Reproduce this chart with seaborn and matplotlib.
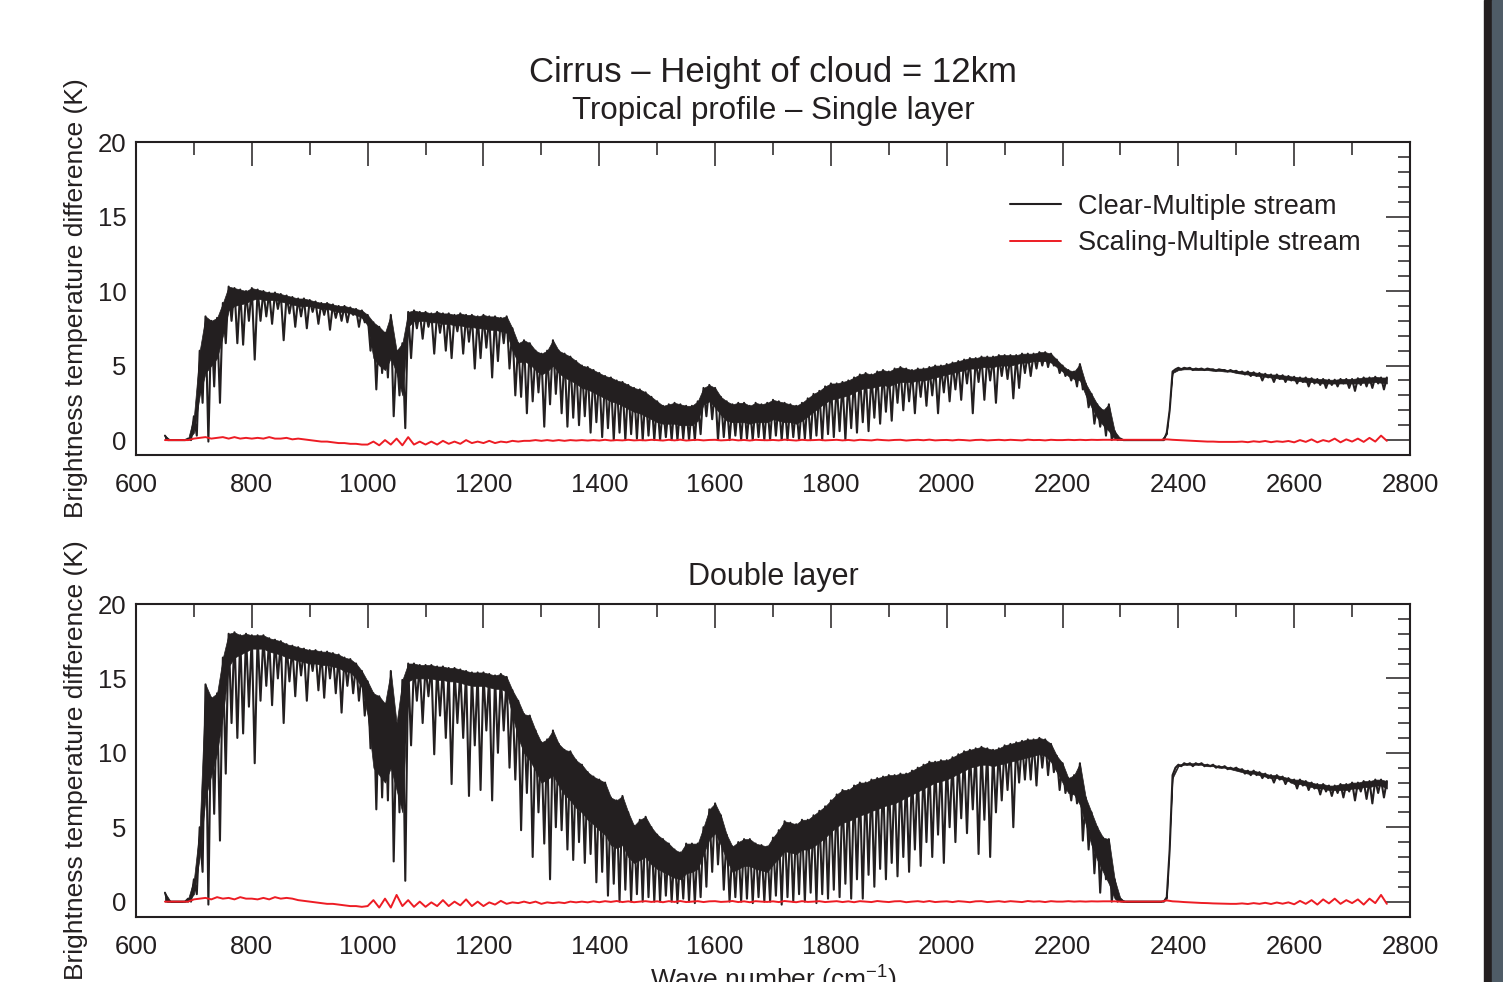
import numpy as np
import pandas as pd
import matplotlib
matplotlib.use("Agg")
import matplotlib.pyplot as plt
from matplotlib.ticker import MultipleLocator
from matplotlib.patches import Rectangle
import seaborn as sns

# ---------------- data (brightness temperature differences, K) ----------------
# wavenumber grid, 10 cm-1 steps, 650 .. 2760 cm-1
wavenumber = np.arange(650, 2761, 10)

# Single layer: upper envelope, lower edge of the dense band, and dip extent
single_top = [
    0.3, 0.0, 0.0, 0.0, 0.1,
    1.6, 6.0, 8.3, 8.0, 8.2, 9.2, 10.3, 10.2, 10.1, 10.0,
    10.2, 10.1, 10.0, 9.9, 9.9, 9.8, 9.7, 9.6, 9.5, 9.5,
    9.4, 9.3, 9.2, 9.2, 9.1, 9.0, 9.0, 8.9, 8.8, 8.7,
    8.4, 7.9, 7.6, 7.2, 8.4, 6.0, 6.5, 8.6, 8.7, 8.6,
    8.6, 8.5, 8.6, 8.5, 8.5, 8.4, 8.5, 8.4, 8.4, 8.3,
    8.4, 8.3, 8.3, 8.2, 8.3, 7.5, 6.5, 6.7, 6.5, 6.0,
    5.8, 6.0, 6.7, 6.0, 5.8, 5.6, 5.3, 5.0, 4.9, 4.7,
    4.5, 4.3, 4.2, 4.0, 3.9, 3.7, 3.5, 3.4, 3.2, 2.9,
    2.6, 2.3, 2.4, 2.5, 2.4, 2.3, 2.3, 2.6, 3.5, 3.7,
    3.5, 2.9, 2.6, 2.4, 2.5, 2.5, 2.3, 2.5, 2.4, 2.5,
    2.7, 2.6, 2.5, 2.4, 2.3, 2.5, 2.8, 3.1, 3.3, 3.6,
    3.8, 3.8, 3.9, 4.0, 4.2, 4.4, 4.5, 4.4, 4.6, 4.7,
    4.6, 4.8, 4.9, 4.8, 4.7, 4.8, 4.8, 4.9, 5.0, 5.0,
    5.1, 5.2, 5.3, 5.4, 5.5, 5.5, 5.6, 5.6, 5.6, 5.7,
    5.7, 5.7, 5.7, 5.8, 5.8, 5.8, 5.9, 5.9, 5.8, 5.4,
    5.0, 4.7, 4.6, 5.1, 3.8, 3.1, 2.4, 2.0, 2.4, 0.6,
    0.1, 0.0, 0.0, 0.0, 0.0, 0.0, 0.0, 0.0, 0.5, 4.6,
    4.85, 4.85, 4.85, 4.8, 4.8, 4.8, 4.75, 4.75, 4.7, 4.7,
    4.65, 4.6, 4.6, 4.55, 4.5, 4.45, 4.4, 4.4, 4.35, 4.3,
    4.25, 4.2, 4.2, 4.15, 4.1, 4.1, 4.05, 4.05, 4.1, 4.1,
    4.1, 4.15, 4.2, 4.2, 4.25, 4.2, 4.2,
]
single_band = [
    0.0, 0.0, 0.0, 0.0, 0.0,
    0.5, 3.0, 4.5, 5.0, 5.5, 7.0, 8.7, 9.0, 9.1, 9.2,
    9.4, 9.5, 9.4, 9.4, 9.4, 9.3, 9.2, 9.1, 9.0, 9.0,
    9.0, 8.9, 8.8, 8.8, 8.7, 8.6, 8.6, 8.5, 8.4, 8.2,
    7.7, 5.5, 5.0, 4.7, 5.5, 4.5, 3.0, 7.6, 8.0, 8.0,
    8.0, 7.9, 7.9, 7.8, 7.8, 7.7, 7.7, 7.6, 7.6, 7.5,
    7.5, 7.4, 7.4, 7.3, 7.2, 6.0, 5.2, 5.3, 5.1, 4.7,
    4.4, 4.6, 5.0, 4.5, 4.2, 4.0, 3.8, 3.5, 3.4, 3.2,
    3.0, 2.8, 2.6, 2.5, 2.3, 2.1, 1.9, 1.8, 1.6, 1.4,
    1.2, 1.1, 1.1, 1.1, 1.0, 1.0, 1.0, 1.3, 2.4, 2.6,
    2.2, 1.7, 1.3, 1.2, 1.2, 1.2, 1.1, 1.2, 1.2, 1.2,
    1.4, 1.3, 1.2, 1.2, 1.1, 1.3, 1.6, 1.9, 2.2, 2.5,
    2.7, 2.8, 2.9, 3.0, 3.2, 3.4, 3.5, 3.5, 3.6, 3.7,
    3.6, 3.8, 3.9, 3.9, 3.9, 4.0, 4.0, 4.1, 4.2, 4.3,
    4.4, 4.5, 4.6, 4.7, 4.8, 4.8, 4.9, 4.9, 4.9, 5.0,
    5.0, 5.0, 5.1, 5.2, 5.2, 5.3, 5.3, 5.3, 5.2, 4.9,
    4.6, 4.3, 4.1, 4.0, 3.0, 2.2, 1.5, 1.0, 0.6, 0.1,
    0.0, 0.0, 0.0, 0.0, 0.0, 0.0, 0.0, 0.0, 0.4, 4.5,
    4.7, 4.75, 4.75, 4.7, 4.7, 4.7, 4.65, 4.65, 4.6, 4.6,
    4.5, 4.45, 4.4, 4.35, 4.3, 4.25, 4.2, 4.15, 4.1, 4.05,
    4.0, 3.95, 3.9, 3.9, 3.85, 3.8, 3.8, 3.8, 3.8, 3.8,
    3.8, 3.8, 3.85, 3.85, 3.9, 3.85, 3.8,
]
single_low = [
    0.0, 0.0, 0.0, 0.0, 0.0,
    0.3, 2.5, -0.1, 3.6, 2.5, 6.5, 8.0, 6.5, 6.4, 8.0,
    5.4, 8.0, 8.3, 7.8, 8.8, 6.7, 8.5, 7.6, 8.3, 7.5,
    8.6, 7.8, 8.4, 7.4, 8.2, 8.0, 7.9, 8.4, 7.6, 7.9,
    6.0, 3.4, 4.5, 4.2, 1.6, 3.0, 0.8, 5.5, 7.5, 6.8,
    7.6, 5.8, 7.2, 6.0, 5.5, 7.3, 5.8, 6.6, 4.8, 5.5,
    6.2, 4.2, 5.3, 6.5, 4.8, 3.0, 2.9, 1.8, 2.6, 3.2,
    0.9, 2.4, 3.1, 1.8, 0.9, 1.5, 1.0, 1.6, 0.5, 1.2,
    0.2, 0.8, 0.0, 0.5, 0.0, 0.4, 0.1, 0.0, 0.3, 0.0,
    0.0, 0.2, 0.0, 0.0, 0.1, 0.0, 0.0, 0.4, 1.6, 1.4,
    0.0, 0.2, 0.0, 0.3, 0.0, 0.1, 0.0, 0.2, 0.0, 0.0,
    0.3, 0.0, 0.0, 0.2, 0.0, 0.1, 0.0, 0.3, 0.0, 0.4,
    0.2, 0.6, 0.0, 0.8, 0.5, 1.2, 0.6, 1.5, 1.1, 1.9,
    1.3, 2.5, 2.0, 2.6, 1.8, 2.9, 2.3, 3.0, 1.8, 3.2,
    2.6, 3.4, 2.7, 3.8, 1.8, 3.9, 2.7, 4.0, 2.5, 4.3,
    4.1, 2.8, 3.5, 4.5, 4.3, 4.8, 5.0, 4.9, 5.0, 4.5,
    4.3, 4.0, 3.6, 3.4, 2.2, 1.1, 0.9, 0.3, 0.0, 0.0,
    0.0, 0.0, 0.0, 0.0, 0.0, 0.0, 0.0, 0.0, 2.0, 4.75,
    4.75, 4.8, 4.7, 4.75, 4.7, 4.75, 4.65, 4.7, 4.6, 4.6,
    4.5, 4.4, 4.3, 4.3, 4.0, 4.2, 3.9, 4.1, 3.9, 4.0,
    3.8, 3.9, 3.6, 3.8, 3.7, 3.5, 3.7, 3.6, 3.8, 3.5,
    3.3, 3.7, 3.6, 3.5, 3.8, 3.4, 3.6,
]
# Single layer: Scaling - Multiple stream
single_red = [
    0.0, 0.0, 0.0, 0.0, 0.0,
    0.1, 0.15, 0.2, 0.1, 0.15, 0.2, 0.1, 0.2, 0.1, 0.15,
    0.1, 0.15, 0.1, 0.2, 0.1, 0.1, 0.15, 0.05, 0.1, 0.05,
    0.0, -0.05, -0.1, -0.1, -0.15, -0.2, -0.2, -0.25, -0.25, -0.3,
    -0.3, -0.1, -0.35, 0.0, -0.3, 0.1, -0.35, 0.2, -0.3, -0.1,
    -0.3, -0.1, -0.3, -0.05, -0.25, -0.1, -0.25, 0.0, -0.2, -0.1,
    -0.2, -0.05, -0.2, -0.1, -0.15, -0.05, -0.1, -0.05, -0.05, 0.0,
    -0.05, 0.0, -0.05, 0.0, -0.05, 0.0, -0.03, 0.0, -0.03, 0.0,
    -0.03, 0.02, -0.03, 0.0, -0.02, 0.02, -0.02, 0.0, -0.02, 0.02,
    0.0, -0.03, 0.02, -0.02, 0.03, -0.03, 0.0, 0.02, -0.02, 0.01,
    0.02, -0.02, 0.0, 0.03, -0.02, 0.01, -0.03, 0.02, 0.0, -0.01,
    0.01, -0.02, 0.03, 0.0, -0.03, 0.02, -0.01, 0.0, 0.02, -0.02,
    0.0, 0.02, -0.02, 0.01, -0.03, 0.02, 0.0, -0.02, 0.03, 0.0,
    -0.02, 0.01, 0.02, -0.03, 0.0, 0.02, -0.01, 0.03, -0.02, 0.0,
    0.01, -0.02, 0.02, 0.0, -0.03, 0.01, 0.02, -0.02, 0.0, 0.02,
    -0.01, 0.02, 0.0, -0.02, 0.03, 0.0, 0.01, -0.02, 0.02, 0.0,
    0.0, 0.02, 0.0, 0.02, 0.0, 0.02, 0.01, 0.02, 0.02, 0.02,
    0.02, 0.02, 0.02, 0.02, 0.02, 0.02, 0.02, 0.02, 0.05, 0.02,
    0.0, -0.02, -0.04, -0.06, -0.08, -0.1, -0.1, -0.12, -0.12, -0.12,
    -0.12, -0.1, -0.14, -0.08, -0.12, -0.06, -0.14, -0.08, -0.12, -0.06,
    -0.15, 0.0, -0.12, 0.05, -0.15, 0.0, -0.1, 0.1, -0.15, 0.05,
    -0.1, 0.1, -0.12, 0.15, -0.1, 0.3, -0.05,
]

# Double layer
double_top = [
    0.6, 0.0, 0.0, 0.0, 0.2,
    1.5, 5.0, 14.6, 13.7, 14.0, 16.4, 18.0, 18.1, 17.9, 18.0,
    17.9, 17.9, 17.9, 17.7, 17.6, 17.5, 17.3, 17.2, 17.1, 17.0,
    16.9, 16.9, 16.8, 16.8, 16.7, 16.6, 16.4, 16.3, 16.0, 15.5,
    14.8, 14.0, 13.8, 13.3, 15.5, 12.0, 14.9, 16.0, 16.0, 15.9,
    15.9, 15.9, 15.8, 15.8, 15.7, 15.7, 15.6, 15.5, 15.4, 15.4,
    15.4, 15.3, 15.2, 15.3, 15.1, 14.2, 13.5, 12.6, 12.5, 11.5,
    10.7, 10.9, 11.5, 10.6, 10.2, 10.1, 9.5, 9.2, 8.7, 8.4,
    8.2, 8.0, 7.0, 6.8, 7.1, 6.0, 5.1, 5.5, 5.7, 5.0,
    4.5, 4.2, 3.9, 3.5, 3.3, 3.9, 3.9, 3.9, 5.0, 6.2,
    6.6, 5.8, 4.5, 3.7, 4.0, 4.2, 4.2, 3.9, 3.8, 3.7,
    4.3, 4.8, 5.4, 5.3, 5.2, 5.5, 5.5, 5.8, 6.1, 6.4,
    6.8, 7.2, 7.5, 7.5, 7.8, 8.0, 8.0, 8.2, 8.3, 8.4,
    8.5, 8.5, 8.6, 8.6, 8.8, 9.0, 9.2, 9.4, 9.4, 9.5,
    9.5, 9.7, 9.9, 10.1, 10.2, 10.3, 10.4, 10.3, 10.2, 10.3,
    10.5, 10.6, 10.7, 10.8, 10.9, 10.9, 11.0, 10.9, 10.6, 9.8,
    9.3, 8.3, 8.5, 9.3, 7.0, 6.0, 5.0, 4.3, 4.2, 1.5,
    0.2, 0.0, 0.0, 0.0, 0.0, 0.0, 0.0, 0.0, 0.3, 8.5,
    9.2, 9.3, 9.3, 9.3, 9.3, 9.2, 9.2, 9.1, 9.1, 9.0,
    9.0, 8.9, 8.8, 8.8, 8.7, 8.6, 8.5, 8.5, 8.4, 8.3,
    8.2, 8.2, 8.1, 8.0, 7.9, 7.9, 7.8, 7.8, 7.9, 7.9,
    8.0, 8.0, 8.1, 8.1, 8.2, 8.2, 8.1,
]
double_band = [
    0.0, 0.0, 0.0, 0.0, 0.0,
    0.5, 3.0, 7.0, 8.5, 10.0, 12.5, 15.8, 16.4, 16.6, 16.8,
    17.0, 17.0, 17.0, 16.8, 16.7, 16.6, 16.4, 16.3, 16.2, 16.1,
    16.0, 16.0, 15.9, 15.9, 15.8, 15.7, 15.5, 15.4, 15.0, 14.4,
    12.5, 9.0, 8.5, 8.0, 9.0, 7.5, 6.0, 14.8, 15.0, 15.0,
    15.0, 15.0, 14.9, 14.9, 14.8, 14.8, 14.7, 14.6, 14.5, 14.5,
    14.5, 14.4, 14.3, 14.3, 14.1, 12.5, 11.0, 10.0, 9.5, 8.8,
    8.0, 8.2, 8.5, 7.8, 7.2, 6.8, 6.3, 6.0, 5.5, 5.2,
    4.8, 4.5, 3.8, 3.6, 3.8, 3.0, 2.6, 2.8, 3.0, 2.5,
    2.2, 2.0, 1.8, 1.6, 1.5, 1.9, 2.0, 2.2, 3.2, 4.2,
    4.6, 3.8, 2.8, 2.0, 2.2, 2.4, 2.4, 2.2, 2.1, 2.0,
    2.5, 2.9, 3.4, 3.3, 3.2, 3.5, 3.5, 3.7, 4.0, 4.3,
    4.7, 5.0, 5.3, 5.4, 5.6, 5.8, 5.9, 6.1, 6.2, 6.4,
    6.5, 6.6, 6.8, 7.0, 7.2, 7.4, 7.6, 7.8, 8.0, 8.1,
    8.2, 8.4, 8.6, 8.8, 9.0, 9.1, 9.2, 9.2, 9.1, 9.2,
    9.3, 9.4, 9.5, 9.6, 9.7, 9.8, 9.9, 9.8, 9.4, 8.7,
    8.0, 7.3, 7.2, 6.5, 5.2, 3.8, 2.8, 2.0, 1.2, 0.2,
    0.0, 0.0, 0.0, 0.0, 0.0, 0.0, 0.0, 0.0, 0.2, 8.3,
    9.1, 9.2, 9.2, 9.2, 9.2, 9.1, 9.1, 9.0, 9.0, 8.9,
    8.8, 8.7, 8.6, 8.6, 8.5, 8.4, 8.3, 8.3, 8.2, 8.1,
    7.9, 7.9, 7.8, 7.7, 7.6, 7.6, 7.5, 7.5, 7.5, 7.5,
    7.6, 7.6, 7.7, 7.7, 7.8, 7.8, 7.6,
]
double_low = [
    0.0, 0.0, 0.0, 0.0, 0.0,
    0.5, 2.0, -0.2, 5.9, 4.1, 8.6, 12.0, 11.0, 11.3, 13.1,
    9.3, 13.5, 14.5, 13.2, 15.0, 12.0, 14.8, 13.8, 15.2, 13.5,
    15.5, 14.2, 13.7, 15.0, 14.0, 12.7, 14.5, 14.0, 13.5, 12.5,
    10.3, 6.2, 7.0, 6.8, 2.7, 6.0, 1.4, 10.5, 13.5, 12.0,
    13.8, 9.9, 12.5, 11.0, 7.9, 12.0, 11.0, 7.1, 10.5, 7.5,
    11.5, 6.8, 10.0, 11.5, 9.0, 8.2, 4.8, 7.3, 3.0, 6.0,
    3.9, 1.5, 5.0, 4.8, 3.5, 2.8, 4.0, 2.6, 3.2, 1.3,
    2.0, 0.4, 1.2, 0.0, 0.8, 0.0, 0.5, 0.0, 0.3, 0.0,
    0.0, 0.4, 0.0, -0.1, 0.2, 0.0, -0.1, 0.3, 1.0, 2.0,
    2.5, 0.8, 0.0, 0.3, 0.0, 0.2, -0.1, 0.3, 0.0, 0.0,
    0.4, -0.2, 0.3, 0.0, 0.5, 0.0, 0.6, -0.1, 0.5, 0.2,
    0.8, 0.3, 1.2, 0.2, 1.5, 0.2, 1.8, 1.0, 2.2, 1.5,
    2.6, 1.7, 3.0, 2.0, 3.5, 2.4, 4.0, 3.0, 4.5, 2.6,
    5.0, 4.0, 5.6, 4.6, 6.2, 3.2, 5.5, 3.0, 6.0, 6.8,
    7.5, 5.0, 8.0, 8.2, 8.2, 7.8, 9.0, 8.5, 8.7, 7.5,
    7.3, 6.8, 6.6, 4.1, 3.5, 1.9, 0.6, 1.5, 0.0, 0.0,
    0.0, 0.0, 0.0, 0.0, 0.0, 0.0, 0.0, 0.0, 3.5, 9.0,
    9.1, 9.2, 9.1, 9.2, 9.1, 9.1, 9.0, 9.0, 8.9, 8.9,
    8.8, 8.6, 8.5, 8.5, 8.3, 8.3, 8.0, 8.2, 7.9, 8.0,
    7.6, 7.8, 7.5, 7.6, 7.2, 7.4, 7.1, 7.3, 7.0, 7.4,
    6.8, 7.4, 6.9, 6.6, 7.3, 7.0, 6.5,
]
double_red = [
    0.0, 0.0, 0.0, 0.0, 0.0,
    0.15, 0.2, 0.25, 0.15, 0.3, 0.2, 0.25, 0.15, 0.3, 0.2,
    0.2, 0.15, 0.25, 0.15, 0.3, 0.2, 0.25, 0.2, 0.1, 0.05,
    0.0, -0.05, -0.1, -0.15, -0.15, -0.2, -0.25, -0.3, -0.3, -0.35,
    -0.3, 0.1, -0.4, 0.2, -0.4, 0.45, -0.3, 0.1, -0.35, 0.0,
    -0.35, -0.05, -0.3, 0.1, -0.3, 0.0, -0.25, 0.15, -0.3, 0.0,
    -0.3, -0.05, -0.2, 0.05, -0.15, -0.05, -0.1, 0.0, -0.1, 0.0,
    -0.15, -0.05, -0.1, -0.05, -0.1, 0.0, -0.05, 0.0, -0.05, 0.02,
    -0.04, 0.03, -0.02, 0.04, -0.03, 0.02, -0.04, 0.0, 0.03, -0.02,
    0.02, -0.04, 0.03, -0.02, 0.04, -0.03, 0.0, 0.03, -0.03, 0.02,
    0.03, -0.02, 0.0, 0.04, -0.03, 0.02, -0.04, 0.03, 0.0, -0.02,
    0.02, -0.03, 0.04, 0.0, -0.04, 0.03, -0.02, 0.0, 0.03, -0.03,
    0.0, 0.03, -0.03, 0.02, -0.04, 0.03, 0.0, -0.03, 0.04, 0.0,
    -0.03, 0.02, 0.03, -0.04, 0.0, 0.03, -0.02, 0.04, -0.03, 0.0,
    0.02, -0.03, 0.03, 0.0, -0.04, 0.02, 0.03, -0.03, 0.0, 0.03,
    -0.02, 0.03, 0.0, -0.03, 0.04, 0.0, 0.02, -0.03, 0.03, 0.0,
    0.0, 0.03, 0.0, 0.02, 0.0, 0.02, 0.01, 0.02, 0.02, 0.02,
    0.0, 0.0, 0.0, 0.0, 0.0, 0.0, 0.0, 0.0, 0.08, 0.02,
    0.0, -0.03, -0.05, -0.07, -0.09, -0.1, -0.12, -0.13, -0.14, -0.15,
    -0.15, -0.12, -0.16, -0.1, -0.15, -0.08, -0.16, -0.06, -0.14, -0.05,
    -0.18, 0.05, -0.15, 0.1, -0.2, 0.15, -0.12, 0.2, -0.15, 0.1,
    -0.1, 0.15, -0.2, 0.2, -0.1, 0.45, -0.15,
]

panel_titles = ["Tropical profile \u2013 Single layer", "Double layer"]
main_title = "Cirrus \u2013 Height of cloud = 12km"
series_labels = ["Clear-Multiple stream", "Scaling-Multiple stream"]
ylabel_text = "Brightness temperature difference (K)"
xlabel_text = "Wave number (cm$^{\\mathrm{-1}}$)"

for arr in (single_top, single_band, single_low, single_red,
            double_top, double_band, double_low, double_red):
    assert len(arr) == len(wavenumber), len(arr)

# ---------------- style ----------------
INK = "#231f20"
RED = "#ed1c24"
sns.set_style("white")
plt.rcParams["font.family"] = ["Liberation Sans", "DejaVu Sans"]
plt.rcParams["mathtext.fontset"] = "custom"
plt.rcParams["mathtext.rm"] = "Liberation Sans"
plt.rcParams["mathtext.it"] = "Liberation Sans:italic"
plt.rcParams["text.color"] = INK
plt.rcParams["axes.labelcolor"] = INK
plt.rcParams["xtick.color"] = INK
plt.rcParams["ytick.color"] = INK


def zigzag(top, low):
    xs = np.column_stack([wavenumber, wavenumber + 5]).ravel()[:-1]
    ys = np.column_stack([np.asarray(top), np.asarray(low)]).ravel()[:-1]
    return pd.DataFrame({"wn": xs, "bt": ys})


fig = plt.figure(figsize=(15.03, 9.82), dpi=100)
ax1 = fig.add_axes([136 / 1503, 1 - 455 / 982, 1274 / 1503, 313 / 982])
ax2 = fig.add_axes([136 / 1503, 1 - 916.5 / 982, 1274 / 1503, 312.5 / 982])

panels = [(ax1, single_top, single_band, single_low, single_red),
          (ax2, double_top, double_band, double_low, double_red)]

for i, (ax, top, band, low, red) in enumerate(panels):
    # dense part of the absorption-line forest
    ax.fill_between(wavenumber, band, top, color=INK, linewidth=0.5,
                    edgecolor=INK, zorder=2)
    dfk = zigzag(top, low)
    dfr = pd.DataFrame({"wn": wavenumber, "bt": red})
    sns.lineplot(data=dfk, x="wn", y="bt", ax=ax, color=INK, linewidth=1.5,
                 estimator=None, sort=False, zorder=3,
                 label=series_labels[0] if i == 0 else None)
    sns.lineplot(data=dfr, x="wn", y="bt", ax=ax, color=RED, linewidth=1.4,
                 estimator=None, sort=False, zorder=4,
                 label=series_labels[1] if i == 0 else None)
    ax.set_xlim(600, 2800)
    ax.set_ylim(-1, 20)
    ax.xaxis.set_major_locator(MultipleLocator(200))
    ax.xaxis.set_minor_locator(MultipleLocator(100))
    ax.yaxis.set_major_locator(MultipleLocator(5))
    ax.yaxis.set_minor_locator(MultipleLocator(1))
    ax.tick_params(which="both", direction="in", top=True, right=True,
                   width=1.1, color=INK)
    ax.tick_params(which="major", length=17)
    ax.tick_params(which="minor", length=9)
    ax.tick_params(axis="x", which="major", labelsize=18.5, pad=13)
    ax.tick_params(axis="y", which="major", labelsize=18.5, pad=7)
    for sp in ax.spines.values():
        sp.set_linewidth(1.5)
        sp.set_color(INK)
        sp.set_zorder(5)
    ax.set_xlabel("")
    ax.set_ylabel(ylabel_text, fontsize=19)
    ax.yaxis.set_label_coords(-0.038, 0.5)
    if ax.get_legend() is not None:
        ax.get_legend().remove()

# titles
ax1.text(0.5, 1.192, main_title, transform=ax1.transAxes, ha="center",
         va="baseline", fontsize=25)
ax1.text(0.5, 1.0735, panel_titles[0], transform=ax1.transAxes, ha="center",
         va="baseline", fontsize=22.5)
ax2.text(0.5, 1.061, panel_titles[1], transform=ax2.transAxes, ha="center",
         va="baseline", fontsize=22)

# legend (top panel)
handles, labels = ax1.get_legend_handles_labels()
ax1.legend(handles, labels, loc="upper left", bbox_to_anchor=(0.686, 0.834),
           frameon=False, fontsize=19.5, handlelength=1.9, handletextpad=0.6,
           labelspacing=0.38, borderpad=0, borderaxespad=0)

# x label (partly cut at the figure bottom, as in the reference)
fig.text(773 / 1503, 1 - 989 / 982, xlabel_text, ha="center", va="baseline",
         fontsize=19)

# dark strip at the right edge
fig.patches.append(Rectangle((1484 / 1503, 0), 8 / 1503, 1,
                             transform=fig.transFigure, color="#231f20",
                             zorder=-1))
fig.patches.append(Rectangle((1492 / 1503, 0), 11 / 1503, 1,
                             transform=fig.transFigure, color="#4f5c67",
                             zorder=-1))

fig.savefig("out.png", dpi=100)
